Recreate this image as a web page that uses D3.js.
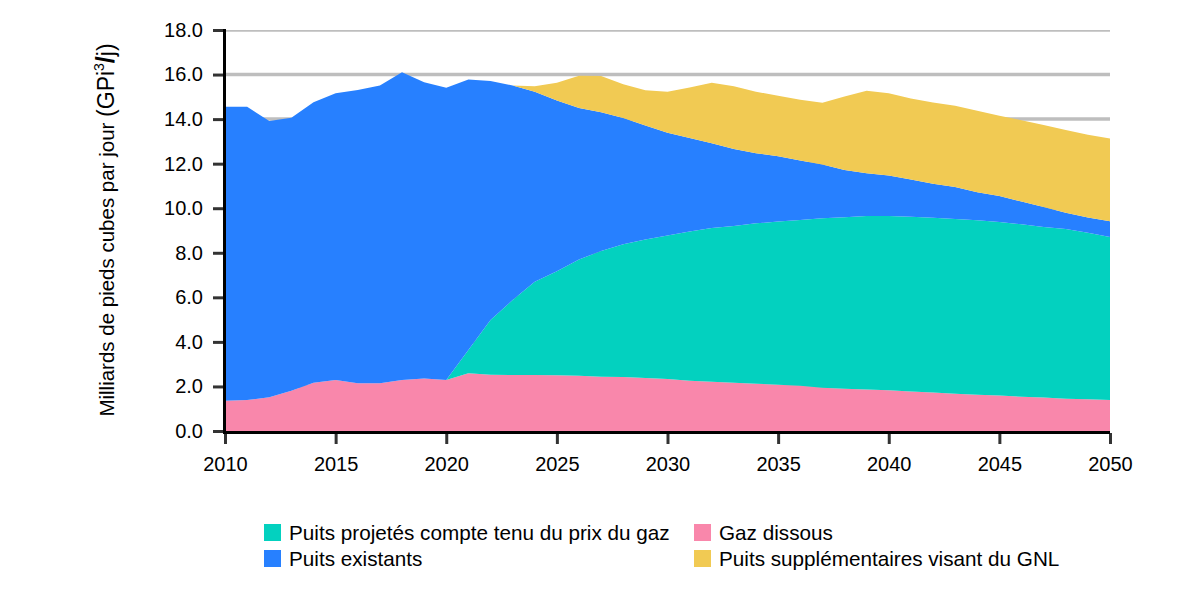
<!DOCTYPE html>
<html><head><meta charset="utf-8">
<script src="https://cdn.jsdelivr.net/npm/d3@7/dist/d3.min.js"></script>
<style>
html,body{margin:0;padding:0;background:#fff;}
text{font-family:"Liberation Sans",Arial,sans-serif;fill:#000;}
</style></head>
<body><svg id="chart" width="1200" height="600"></svg>
<script>
const years = d3.range(2010, 2051);
const dissous = [1.36,1.39,1.51,1.81,2.17,2.29,2.14,2.14,2.29,2.36,2.29,2.59,2.53,2.51,2.51,2.50,2.48,2.44,2.42,2.38,2.33,2.26,2.21,2.17,2.12,2.08,2.03,1.94,1.90,1.86,1.83,1.77,1.73,1.67,1.63,1.59,1.54,1.50,1.45,1.42,1.39];
const projetes = [0,0,0,0,0,0,0,0,0,0,0,1.05,2.45,3.37,4.19,4.67,5.22,5.64,5.96,6.22,6.45,6.70,6.90,7.03,7.20,7.32,7.44,7.61,7.70,7.79,7.82,7.85,7.84,7.85,7.83,7.79,7.74,7.66,7.62,7.48,7.32];
const existants = [13.20,13.17,12.40,12.25,12.59,12.87,13.17,13.37,13.81,13.30,13.12,12.14,10.73,9.63,8.53,7.66,6.80,6.23,5.67,5.11,4.61,4.19,3.81,3.46,3.15,2.93,2.67,2.41,2.12,1.92,1.82,1.67,1.53,1.43,1.26,1.17,1.02,0.89,0.73,0.68,0.71];
const gnl = [0,0,0,0,0,0,0,0,0,0,0,0,0,0,0.24,0.80,1.45,1.62,1.52,1.58,1.84,2.27,2.71,2.82,2.76,2.72,2.73,2.78,3.29,3.70,3.69,3.64,3.65,3.65,3.66,3.60,3.65,3.69,3.71,3.72,3.71];
const seriesKeys = ["dissous","projetes","existants","gnl"];
const seriesLabels = {
  projetes: "Puits projetés compte tenu du prix du gaz",
  dissous: "Gaz dissous",
  existants: "Puits existants",
  gnl: "Puits supplémentaires visant du GNL"
};
const colors = {dissous:"#f987ab", projetes:"#03d1bf", existants:"#2780ff", gnl:"#f1ca53"};
const yTicks = [0,2,4,6,8,10,12,14,16,18];
const xTicks = [2010,2015,2020,2025,2030,2035,2040,2045,2050];
const yTitle = "Milliards de pieds cubes par jour";

const table = years.map((y,i)=>({year:y, dissous:dissous[i], projetes:projetes[i], existants:existants[i], gnl:gnl[i]}));

const svg = d3.select("#chart");
const m = {left:225, right:1110, top:30, bottom:431};
const x = d3.scaleLinear().domain([2010,2050]).range([m.left, m.right]);
const y = d3.scaleLinear().domain([0,18]).range([m.bottom, m.top]);

svg.append("defs").append("clipPath").attr("id","clip")
  .append("rect").attr("x",m.left).attr("y",m.top).attr("width",m.right-m.left).attr("height",m.bottom-m.top);

// gridlines
svg.append("g").attr("clip-path","url(#clip)")
  .selectAll("line").data(yTicks.filter(d=>d>0)).join("line")
  .attr("x1",m.left).attr("x2",m.right)
  .attr("y1",d=>y(d)).attr("y2",d=>y(d))
  .attr("stroke","#bebebe").attr("stroke-width",3.5);

const stack = d3.stack().keys(seriesKeys)(table);
const area = d3.area().x(d=>x(d.data.year)).y0(d=>y(d[0])).y1(d=>y(d[1]));
svg.append("g").selectAll("path").data(stack).join("path")
  .attr("d",area).attr("fill",d=>colors[d.key]);

// y axis
const yAxis = svg.append("g").attr("transform",`translate(${m.left-2},0)`)
  .call(d3.axisLeft(y).tickValues(yTicks).tickFormat(d3.format(".1f")).tickSize(10).tickPadding(10));
yAxis.select(".domain").remove();
yAxis.selectAll(".tick line").attr("stroke","#333").attr("stroke-width",3);
yAxis.selectAll(".tick text").style("font-size","20px").attr("fill","#000");
svg.append("line").attr("x1",m.left-0.5).attr("x2",m.left-0.5).attr("y1",m.top-1).attr("y2",m.bottom+3)
  .attr("stroke","#000").attr("stroke-width",3);

// x axis
const xAxis = svg.append("g").attr("transform",`translate(0,${m.bottom+2})`)
  .call(d3.axisBottom(x).tickValues(xTicks).tickFormat(d3.format("d")).tickSize(11).tickPadding(13));
xAxis.select(".domain").remove();
xAxis.selectAll(".tick line").attr("stroke","#333").attr("stroke-width",3);
xAxis.selectAll(".tick text").style("font-size","20px").attr("fill","#000");
svg.append("line").attr("x1",m.left-2).attr("x2",m.right).attr("y1",m.bottom+1.5).attr("y2",m.bottom+1.5)
  .attr("stroke","#000").attr("stroke-width",3);

// y title
const t = svg.append("text").attr("transform",`translate(114,230) rotate(-90)`)
  .attr("text-anchor","middle").style("font-size","20.5px");
t.append("tspan").text(yTitle + " ");
t.append("tspan").style("font-size","23px").text("(GPi");
t.append("tspan").attr("dy",-10).style("font-size","14px").text("3");
t.append("tspan").attr("dy",10).style("font-size","25px").style("font-weight","bold").text("/");
t.append("tspan").style("font-size","23px").text("j)");

// legend
const legendItems = [
  {key:"projetes", x:264, y:524},
  {key:"dissous", x:694, y:524},
  {key:"existants", x:264, y:550},
  {key:"gnl", x:694, y:550}
];
const lg = svg.append("g").selectAll("g").data(legendItems).join("g")
  .attr("transform",d=>`translate(${d.x},${d.y})`);
lg.append("rect").attr("width",17).attr("height",17).attr("fill",d=>colors[d.key]);
lg.append("text").attr("x",25).attr("y",16).style("font-size","20.7px").text(d=>seriesLabels[d.key]);
</script></body></html>
